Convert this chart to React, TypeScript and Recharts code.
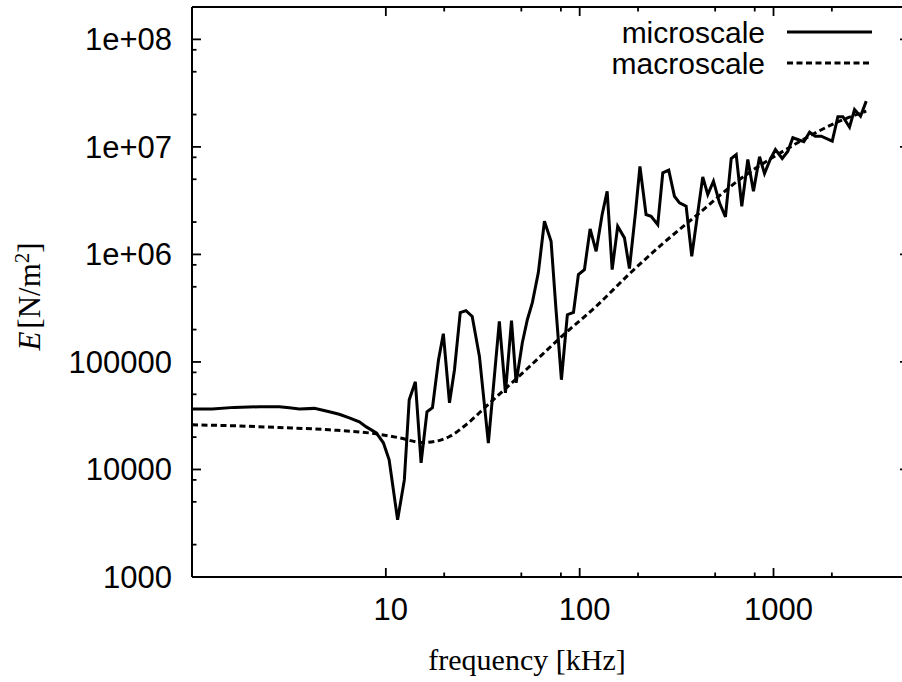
import React from 'react';
import { LineChart, Line, XAxis, YAxis } from 'recharts';

const microFreq = [
  1, 1.27, 1.65, 2.22, 2.82, 3.18, 3.58, 4.28, 5.11, 5.75, 6.48, 7.3, 7.93, 8.93, 9.71, 10.4,
  11.5, 12.46, 13.2, 14.2, 15.2, 16.3, 17.4, 18.7, 19.8, 21.3, 22.6, 24.2, 25.9, 27.9, 30.4,
  33.8, 38.5, 41.4, 44.5, 47.0, 50.6, 53.7, 57.0, 61.2, 65.8, 71.2, 75.5, 80.5, 86.4, 92.9,
  98.5, 105.8, 113.2, 121.6, 130.6, 138.6, 147.1, 157.1, 170.2, 180.6, 194, 204.6, 220, 233.7,
  252.8, 268.4, 288.1, 308.3, 327.2, 354.2, 378.6, 406.6, 431.5, 458, 490, 526.4, 565, 605,
  642, 686, 737, 788, 847, 898.6, 961.5, 1023, 1109, 1186, 1258, 1434, 1535, 1642, 1763,
  2009, 2148, 2280, 2467, 2618, 2812, 3009,
];
const microE = [
  36600, 36600, 37800, 38300, 38300, 37500, 36600, 37000, 34400, 32600, 30200, 27700, 24900,
  21900, 17700, 12300, 3400, 8000, 44500, 65400, 11500, 34400, 37500, 104800, 183000, 41700,
  84600, 287000, 300000, 265000, 112500, 17600, 238000, 51700, 242000, 64000, 151000, 247000,
  356000, 677000, 2033000, 1324000, 306000, 68300, 275000, 289000, 649000, 722000, 1727000,
  1069000, 2349000, 3870000, 722000, 1828000, 1425000, 738000, 2434000, 6570000, 2349000,
  2264000, 1893000, 5740000, 6068000, 3475000, 3017000, 2805000, 960000, 2434000, 5267000,
  3604000, 4795000, 3017000, 2234000, 7800000, 8495000, 2805000, 7635000, 3870000, 8090000,
  5650000, 7635000, 9460000, 7800000, 9120000, 12160000, 11160000, 13700000, 12580000,
  12580000, 11300000, 19060000, 19060000, 15250000, 22300000, 19300000, 26650000,
];

const macroFreq = [
  1, 1.65, 2.82, 5.11, 8.91, 11.74, 15.4, 17.8, 21.3, 25.9, 32.9, 41.7, 52.9, 81.7, 121.6,
  180.6, 268.4, 415, 667.6, 1209, 2191, 3009,
];
const macroE = [
  26000, 25470, 24550, 23370, 21450, 19680, 17800, 18200, 20250, 26000, 38540, 57150, 84600,
  176000, 328600, 660000, 1260000, 2434000, 4970000, 9870000, 17340000, 21500000,
];

const xMajorTicks = [10, 100, 1000];
const xMinorTicks = [20, 50, 80, 200, 500, 800, 2000];
const yMajorTicks = [1e3, 1e4, 1e5, 1e6, 1e7, 1e8];
const yMajorLabels = ['1000', '10000', '100000', '1e+06', '1e+07', '1e+08'];
const yMinorTicks = [
  2e3, 5e3, 8e3, 2e4, 5e4, 8e4, 2e5, 5e5, 8e5, 2e6, 5e6, 8e6, 2e7, 5e7, 8e7,
];
const seriesNames = ['microscale', 'macroscale'];
const xTitle = 'frequency [kHz]';

const microData = microFreq.map((f, i) => ({ f, E: microE[i] }));
const macroData = macroFreq.map((f, i) => ({ f, E: macroE[i] }));
const xTicks = [...xMajorTicks, ...xMinorTicks].sort((a, b) => a - b);
const yTicks = [...yMajorTicks, ...yMinorTicks].sort((a, b) => a - b);

const SANS = "'Liberation Sans', Arial, Helvetica, sans-serif";
const SERIF = "'Liberation Serif', 'Times New Roman', serif";
const FS = 31;
const LFS = 30;
const MAJ = 9;
const MIN = 4.5;
const TW = 1.8;

const isMajorX = (v: number) => xMajorTicks.some((m) => Math.abs(m - v) < 1e-6 * m);
const yMajorIndex = (v: number) => yMajorTicks.findIndex((m) => Math.abs(m - v) < 1e-6 * m);

const BottomTick = (props: any) => {
  const { x, y, payload } = props;
  const v = payload.value;
  const major = isMajorX(v);
  return (
    <g>
      <line x1={x} x2={x} y1={y} y2={y - (major ? MAJ : MIN)} stroke="#000" strokeWidth={TW} />
      {major && (
        <text x={x + 5} y={y + 43} textAnchor="middle" fontFamily={SANS} fontSize={FS} fill="#000">
          {String(v)}
        </text>
      )}
    </g>
  );
};

const TopTick = (props: any) => {
  const { x, y, payload } = props;
  const major = isMajorX(payload.value);
  return <line x1={x} x2={x} y1={y} y2={y + (major ? MAJ : MIN)} stroke="#000" strokeWidth={TW} />;
};

const LeftTick = (props: any) => {
  const { x, y, payload } = props;
  const idx = yMajorIndex(payload.value);
  const major = idx >= 0;
  return (
    <g>
      <line x1={x} x2={x + (major ? MAJ : MIN)} y1={y} y2={y} stroke="#000" strokeWidth={TW} />
      {major && (
        <text x={x - 20} y={y + 11} textAnchor="end" fontFamily={SANS} fontSize={FS} fill="#000">
          {yMajorLabels[idx]}
        </text>
      )}
    </g>
  );
};

const RightTick = (props: any) => {
  const { x, y, payload } = props;
  const major = yMajorIndex(payload.value) >= 0;
  return <line x1={x} x2={x - (major ? MAJ : MIN)} y1={y} y2={y} stroke="#000" strokeWidth={TW} />;
};

const axisLine = { stroke: '#000', strokeWidth: 2 };

export default function App() {
  return (
    <div
      style={{
        position: 'absolute',
        left: 0,
        top: 0,
        width: 902,
        height: 682,
        overflow: 'hidden',
        background: '#fff',
      }}
    >
      <LineChart
        width={920}
        height={682}
        margin={{ top: 6, right: 10, bottom: 104, left: 191 }}
      >
        <XAxis
          xAxisId="b"
          dataKey="f"
          type="number"
          scale="log"
          domain={[1, 5000]}
          allowDataOverflow
          ticks={xTicks}
          interval={0}
          height={1}
          tickSize={0}
          tickMargin={0}
          tickLine={false}
          axisLine={axisLine}
          tick={BottomTick}
          orientation="bottom"
        />
        <XAxis
          xAxisId="t"
          dataKey="f"
          type="number"
          scale="log"
          domain={[1, 5000]}
          allowDataOverflow
          ticks={xTicks}
          interval={0}
          height={1}
          tickSize={0}
          tickMargin={0}
          tickLine={false}
          axisLine={axisLine}
          tick={TopTick}
          orientation="top"
        />
        <YAxis
          yAxisId="l"
          type="number"
          scale="log"
          domain={[1000, 2e8]}
          allowDataOverflow
          ticks={yTicks}
          interval={0}
          width={1}
          tickSize={0}
          tickMargin={0}
          tickLine={false}
          axisLine={axisLine}
          tick={LeftTick}
          orientation="left"
        />
        <YAxis
          yAxisId="r"
          type="number"
          scale="log"
          domain={[1000, 2e8]}
          allowDataOverflow
          ticks={yTicks}
          interval={0}
          width={1}
          tickSize={0}
          tickMargin={0}
          tickLine={false}
          axisLine={axisLine}
          tick={RightTick}
          orientation="right"
        />
        <Line
          xAxisId="b"
          yAxisId="l"
          data={macroData}
          dataKey="E"
          type="monotone"
          stroke="#000"
          strokeWidth={3}
          strokeDasharray="6 3.5"
          dot={false}
          activeDot={false}
          isAnimationActive={false}
          name={seriesNames[1]}
        />
        <Line
          xAxisId="b"
          yAxisId="l"
          data={microData}
          dataKey="E"
          type="linear"
          stroke="#000"
          strokeWidth={3}
          dot={false}
          activeDot={false}
          isAnimationActive={false}
          name={seriesNames[0]}
        />
      </LineChart>
      <svg
        width={902}
        height={682}
        style={{ position: 'absolute', left: 0, top: 0, pointerEvents: 'none' }}
      >
        <text x={765} y={43} textAnchor="end" fontFamily={SANS} fontSize={LFS} fill="#000">
          {seriesNames[0]}
        </text>
        <line x1={787} x2={872} y1={32} y2={32} stroke="#000" strokeWidth={3} />
        <text x={765} y={74} textAnchor="end" fontFamily={SANS} fontSize={LFS} fill="#000">
          {seriesNames[1]}
        </text>
        <line x1={787} x2={872} y1={63} y2={63} stroke="#000" strokeWidth={3} strokeDasharray="6 3.5" />
        <text x={527} y={670} textAnchor="middle" fontFamily={SERIF} fontSize={30} fill="#000">
          {xTitle}
        </text>
        <text
          transform="translate(40,296.5) rotate(-90)"
          textAnchor="middle"
          fontFamily={SERIF}
          fontSize={31}
          fill="#000"
        >
          <tspan fontStyle="italic">E</tspan>
          <tspan dx={3}>[N/m</tspan>
          <tspan dy={-11} fontSize={21}>2</tspan>
          <tspan dy={11}>]</tspan>
        </text>
      </svg>
    </div>
  );
}
